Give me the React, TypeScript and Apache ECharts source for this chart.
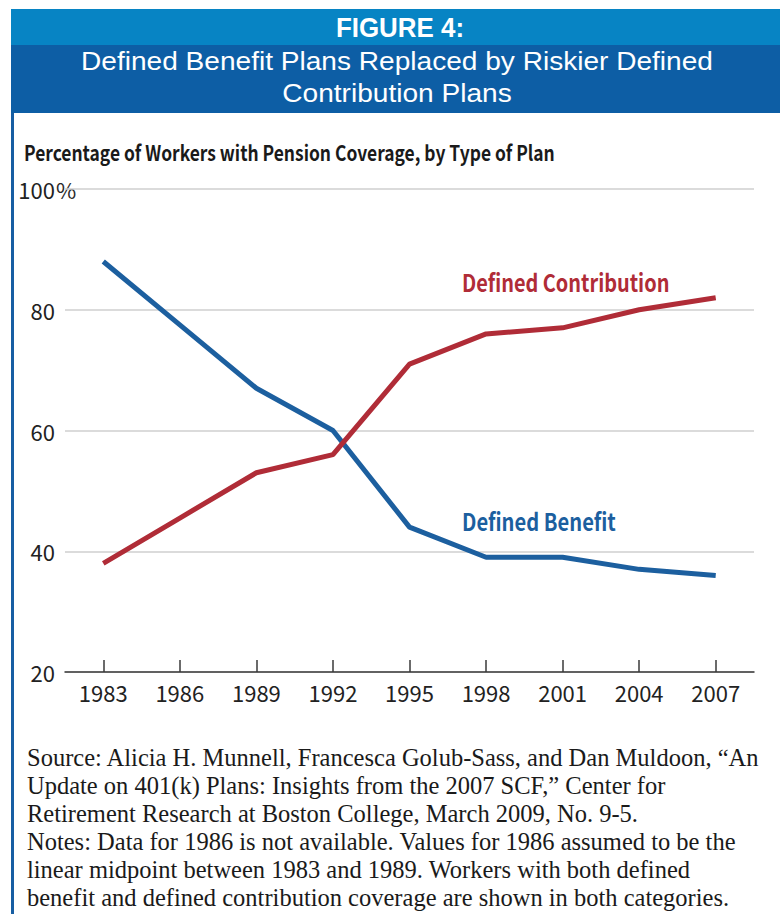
import React, { useEffect, useRef } from "react";
import * as echarts from "echarts";

const years = ["1983", "1986", "1989", "1992", "1995", "1998", "2001", "2004", "2007"];
const definedBenefit = [88, 77.5, 67, 60, 44, 39, 39, 37, 36];
const definedContribution = [38, 45.5, 53, 56, 71, 76, 77, 80, 82];
const yTicks = { min: 20, max: 100, interval: 20 };

const headerTop = "FIGURE 4:";
const headerLines = ["Defined Benefit Plans Replaced by Riskier Defined", "Contribution Plans"];
const chartTitle = "Percentage of Workers with Pension Coverage, by Type of Plan";
const footerLines = [
  "Source: Alicia H. Munnell, Francesca Golub-Sass, and Dan Muldoon, \u201CAn",
  "Update on 401(k) Plans: Insights from the 2007 SCF,\u201D Center for",
  "Retirement Research at Boston College, March 2009, No. 9-5.",
  "Notes: Data for 1986 is not available. Values for 1986 assumed to be the",
  "linear midpoint between 1983 and 1989. Workers with both defined",
  "benefit and defined contribution coverage are shown in both categories.",
];

const BLUE = "#1c5f9f";
const RED = "#b02c37";
const SS = "'Noto Sans CJK SC', 'Noto Sans', sans-serif";

export default function App() {
  const ref = useRef<HTMLDivElement>(null);
  useEffect(() => {
    document.body.style.margin = "0";
    const chart = echarts.init(ref.current!, null, { renderer: "svg" });
    const graphics: any[] = [
      { type: "rect", shape: { x: 11, y: 9, width: 769, height: 36 }, style: { fill: "#0784c4" } },
      { type: "rect", shape: { x: 11, y: 45, width: 769, height: 68 }, style: { fill: "#0d5ea5" } },
      { type: "rect", shape: { x: 11, y: 113, width: 3, height: 801 }, style: { fill: "#175ea3" } },
      {
        type: "text", x: 400, y: 28, scaleX: 0.96,
        style: { text: headerTop, fill: "#fff", font: "bold 27px 'Liberation Sans', Arial, sans-serif", align: "center", verticalAlign: "middle" },
      },
      ...headerLines.map((t, i) => ({
        type: "text", x: 397, y: 61 + i * 32, scaleX: 1.08,
        style: { text: t, fill: "#fff", font: "26px 'Liberation Sans', Arial, sans-serif", align: "center", verticalAlign: "middle" },
      })),
      {
        type: "text", x: 24, y: 152, scaleX: 0.83,
        style: { text: chartTitle, fill: "#1a1a1a", font: "bold 21px " + SS, align: "left", verticalAlign: "middle" },
      },
      {
        type: "text", x: 56, y: 189,
        style: { text: "%", fill: "#2a2a2a", font: "22px " + SS, align: "left", verticalAlign: "middle", backgroundColor: "#fff", padding: [0, 6, 0, 0] },
      },
      {
        type: "text", x: 462, y: 281, scaleX: 0.83,
        style: { text: "Defined Contribution", fill: RED, font: "bold 24px " + SS, align: "left", verticalAlign: "middle" },
      },
      {
        type: "text", x: 462, y: 520, scaleX: 0.84,
        style: { text: "Defined Benefit", fill: BLUE, font: "bold 24px " + SS, align: "left", verticalAlign: "middle" },
      },
      ...footerLines.map((t, i) => ({
        type: "text", x: 27, y: 757 + i * 28,
        style: { text: t, fill: "#1a1a1a", font: "24.5px 'Liberation Serif', 'Times New Roman', serif", align: "left", verticalAlign: "middle" },
      })),
    ];
    chart.setOption({
      animation: false,
      backgroundColor: "#fff",
      grid: { left: 65, right: 26, top: 189, bottom: 914 - 672, containLabel: false, outerBoundsMode: "none" },
      xAxis: {
        type: "category",
        data: years,
        boundaryGap: true,
        axisLine: { show: true, lineStyle: { color: "#3a3a3a", width: 1.5 } },
        axisTick: { show: true, inside: true, alignWithLabel: true, length: 12, lineStyle: { color: "#3a3a3a", width: 1.5 } },
        axisLabel: { color: "#222", fontSize: 22, fontFamily: SS, margin: 9 },
        splitLine: { show: false },
      },
      yAxis: {
        type: "value",
        min: yTicks.min,
        max: yTicks.max,
        interval: yTicks.interval,
        axisLine: { show: false },
        axisTick: { show: false },
        axisLabel: { color: "#222", fontSize: 22, fontFamily: SS, margin: 10 },
        splitLine: { show: true, lineStyle: { color: "#cfcfcf", width: 1.5 } },
      },
      series: [
        {
          name: "Defined Benefit", type: "line", data: definedBenefit, symbol: "none",
          lineStyle: { color: BLUE, width: 5 }, z: 3,
        },
        {
          name: "Defined Contribution", type: "line", data: definedContribution, symbol: "none",
          lineStyle: { color: RED, width: 5 }, z: 4,
        },
      ],
      graphic: graphics,
    });
    return () => chart.dispose();
  }, []);
  return <div ref={ref} style={{ width: 780, height: 914 }} />;
}
